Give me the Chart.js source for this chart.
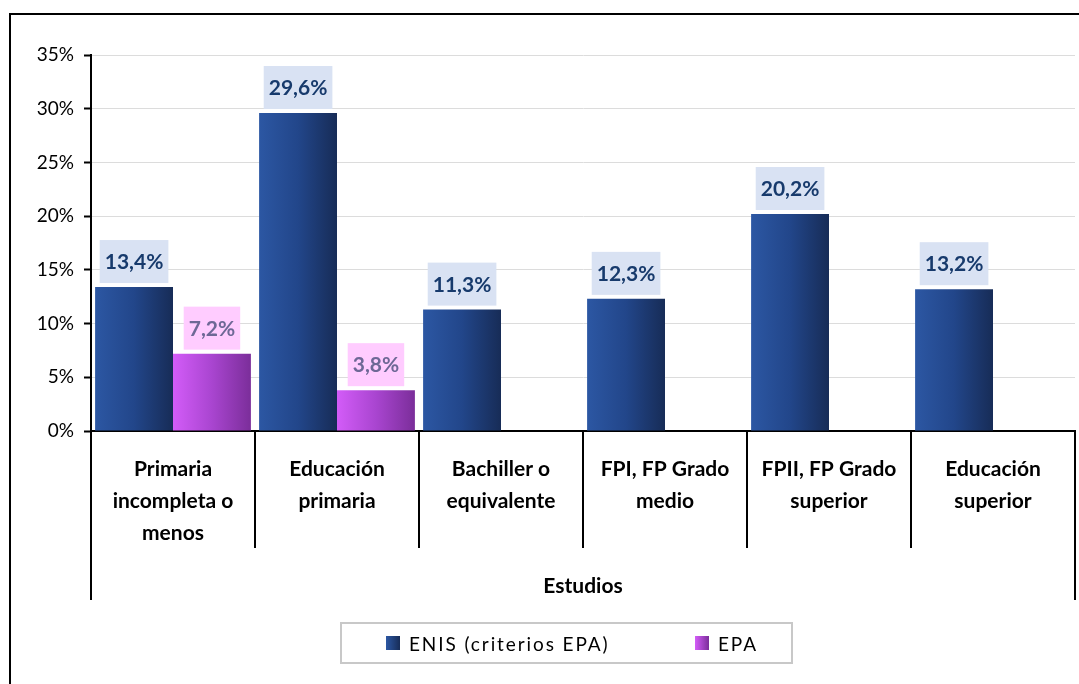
<!DOCTYPE html>
<html>
<head>
<meta charset="utf-8">
<script src="https://cdn.jsdelivr.net/npm/chart.js@4"></script>
<style>
  body { margin: 0; background: #fff; }
  #wrap { position: relative; width: 1079px; height: 684px; overflow: hidden; }
  #legend {
    position: absolute; left: 340px; top: 622px; width: 449px; height: 38px;
    border: 2px solid #c8c8c8; font-family: Lato, sans-serif; font-size: 19px;
    color: #000;
  }
  .item { position: absolute; top: 8px; letter-spacing: 1.9px; }
  .sw { position: absolute; top: 12px; width: 14px; height: 14px; }
</style>
</head>
<body>
<div id="wrap">
  <canvas id="chart" width="1079" height="684"></canvas>
  <div id="legend">
    <div class="sw" style="left:44px;background:linear-gradient(to right,#2c57a3,#172c57)"></div>
    <div class="item" style="left:67px">ENIS (criterios EPA)</div>
    <div class="sw" style="left:353px;background:linear-gradient(to right,#d35cf8,#7b2e9a)"></div>
    <div class="item" style="left:376px">EPA</div>
  </div>
</div>
<script>
// Data
const categories = [
    ['Primaria', 'incompleta o', 'menos'],
    ['Educación', 'primaria'],
    ['Bachiller o', 'equivalente'],
    ['FPI, FP Grado', 'medio'],
    ['FPII, FP Grado', 'superior'],
    ['Educación', 'superior']
];
const enisValues = [13.4, 29.6, 11.3, 12.3, 20.2, 13.2];
const epaValues = [7.2, 3.8, null, null, null, null];
const yTicks = [0, 5, 10, 15, 20, 25, 30, 35];
const axisTitle = 'Estudios';

const FONT = 'Lato, sans-serif';

// Paint each bar with a horizontal gradient, plus the outer frame and dividers
const decorPlugin = {
    id: 'decor',
    beforeDatasetsDraw(chart) {
        const ctx = chart.ctx;
        const grads = [['#2c57a3', '#22468a', '#172c57'], ['#d35cf8', '#a945d0', '#7b2e9a']];
        chart.data.datasets.forEach((ds, di) => {
            chart.getDatasetMeta(di).data.forEach(el => {
                const left = el.x - el.width / 2;
                const g = ctx.createLinearGradient(left, 0, left + el.width, 0);
                g.addColorStop(0, grads[di][0]);
                g.addColorStop(0.5, grads[di][1]);
                g.addColorStop(1, grads[di][2]);
                el.options = Object.assign({}, el.options, { backgroundColor: g });
            });
        });
    },
    afterDraw(chart) {
        const ctx = chart.ctx;
        const xs = chart.scales.x;
        const area = chart.chartArea;
        const half = (xs.getPixelForValue(1) - xs.getPixelForValue(0)) / 2;

        ctx.save();
        // outer frame
        ctx.strokeStyle = '#000';
        ctx.lineWidth = 2;
        ctx.strokeRect(10, 14, 1200, 800);

        // category divider lines below the axis
        ctx.lineWidth = 2;
        for (let i = 0; i <= categories.length; i++) {
            const x = Math.round(xs.getPixelForValue(i) - half);
            const edge = i === 0 || i === categories.length;
            ctx.beginPath();
            ctx.moveTo(x, area.bottom);
            ctx.lineTo(x, edge ? 600 : 548);
            ctx.stroke();
        }

        // axis title
        ctx.fillStyle = '#000';
        ctx.font = 'bold 21px ' + FONT;
        ctx.textAlign = 'center';
        ctx.textBaseline = 'middle';
        ctx.fillText(axisTitle, (area.left + area.right) / 2, 586);

        // value labels in boxes
        ctx.font = 'bold 21px ' + FONT;
        const styles = [
            { box: '#d9e2f3', text: '#173a6c' },
            { box: '#ffccff', text: '#6e6896' }
        ];
        chart.data.datasets.forEach((ds, di) => {
            chart.getDatasetMeta(di).data.forEach((el, i) => {
                const v = ds.data[i];
                if (v === null) return;
                const txt = v.toFixed(1).replace('.', ',') + '%';
                const w = ctx.measureText(txt).width + 10;
                const h = 43;
                const bottom = el.y - 4;
                ctx.fillStyle = styles[di].box;
                ctx.fillRect(el.x - w / 2, bottom - h, w, h);
                ctx.fillStyle = styles[di].text;
                ctx.fillText(txt, el.x, bottom - h / 2 + 1);
            });
        });
        ctx.restore();
    }
};

new Chart(document.getElementById('chart').getContext('2d'), {
    type: 'bar',
    data: {
        labels: categories,
        datasets: [
            { label: 'ENIS (criterios EPA)', data: enisValues, backgroundColor: '#22468a' },
            { label: 'EPA', data: epaValues, backgroundColor: '#a945d0' }
        ]
    },
    options: {
        responsive: false,
        animation: false,
        events: [],
        categoryPercentage: 0.95,
        barPercentage: 1.0,
        layout: { padding: { left: 0, right: 4, top: 55, bottom: 0 } },
        plugins: {
            legend: { display: false },
            tooltip: { enabled: false }
        },
        scales: {
            x: {
                grid: { display: false, drawTicks: false },
                border: { color: '#000', width: 2 },
                ticks: {
                    color: '#000',
                    padding: 22,
                    maxRotation: 0,
                    autoSkip: false,
                    font: { family: FONT, size: 21, weight: 'bold', lineHeight: 1.52 }
                },
                afterFit(scale) { scale.height = 253; }
            },
            y: {
                min: 0,
                max: 35,
                afterBuildTicks(scale) { scale.ticks = yTicks.map(v => ({ value: v })); },
                grid: { color: '#dcdcdc', lineWidth: 1, tickColor: '#000', tickLength: 7, tickWidth: 2 },
                border: { color: '#000', width: 2 },
                ticks: {
                    color: '#000',
                    padding: 10,
                    font: { family: FONT, size: 19 },
                    callback: v => v + '%'
                },
                afterFit(scale) { scale.width = 91; }
            }
        }
    },
    plugins: [decorPlugin]
});
</script>
</body>
</html>
